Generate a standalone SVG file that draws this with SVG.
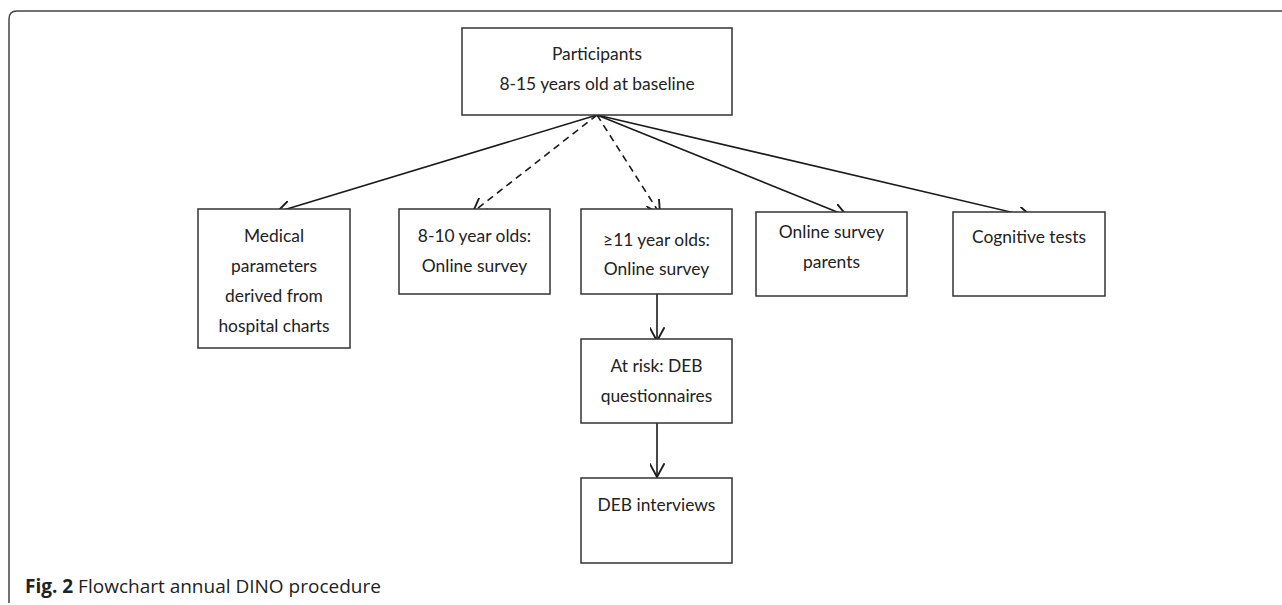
<svg xmlns="http://www.w3.org/2000/svg" width="1282" height="605" viewBox="0 0 1282 605">
<defs>
<style>
.box{fill:#fff;stroke:#333;stroke-width:1.5}
.t{font-family:Lato,"Open Sans",sans-serif;font-size:17.4px;fill:#222;text-anchor:middle}
.c{stroke:#1a1a1a;stroke-width:1.6;fill:none}
.d{stroke-dasharray:7 5}
.frame{fill:none;stroke:#444;stroke-width:1.5}
.cap{font-family:"Open Sans",sans-serif;font-size:19px;fill:#222}
</style>
<marker id="ah" viewBox="0 0 12 12" refX="11" refY="6" markerWidth="15" markerHeight="15" markerUnits="userSpaceOnUse" orient="auto">
<path d="M0,0 L11,6 L0,12" fill="none" stroke="#1a1a1a" stroke-width="1.5"/>
</marker>
</defs>
<path class="frame" d="M9,603 L9,19 Q9,11 17,11 L1282,11"/>
<g id="connectors">
<line class="c" x1="597" y1="115" x2="277" y2="212" marker-end="url(#ah)"/>
<line class="c d" x1="597" y1="115" x2="473" y2="212" marker-end="url(#ah)"/>
<line class="c d" x1="597" y1="115" x2="660" y2="214" marker-end="url(#ah)"/>
<line class="c" x1="597" y1="115" x2="847" y2="216" marker-end="url(#ah)"/>
<line class="c" x1="597" y1="115" x2="1032" y2="217" marker-end="url(#ah)"/>
<line class="c" x1="657" y1="294" x2="657" y2="341" marker-end="url(#ah)"/>
<line class="c" x1="657" y1="423" x2="657" y2="477" marker-end="url(#ah)"/>
</g>
<g id="participants">
<rect class="box" x="462" y="28" width="270" height="87"/>
<text class="t" x="597" y="60">Participants</text>
<text class="t" x="597" y="90">8-15 years old at baseline</text>
</g>
<g id="medical">
<rect class="box" x="198" y="209" width="152" height="139"/>
<text class="t" x="274" y="242">Medical</text>
<text class="t" x="274" y="272">parameters</text>
<text class="t" x="274" y="302">derived from</text>
<text class="t" x="274" y="332">hospital charts</text>
</g>
<g id="young">
<rect class="box" x="399" y="209" width="151" height="85"/>
<text class="t" x="474.5" y="242">8-10 year olds:</text>
<text class="t" x="474.5" y="272">Online survey</text>
</g>
<g id="older">
<rect class="box" x="581" y="209" width="151" height="85"/>
<text class="t" x="656.5" y="246">≥11 year olds:</text>
<text class="t" x="656.5" y="275">Online survey</text>
</g>
<g id="parents">
<rect class="box" x="756" y="212" width="151" height="84"/>
<text class="t" x="831.5" y="238">Online survey</text>
<text class="t" x="831.5" y="268">parents</text>
</g>
<g id="cognitive">
<rect class="box" x="953" y="212" width="152" height="84"/>
<text class="t" x="1029" y="243">Cognitive tests</text>
</g>
<g id="atrisk">
<rect class="box" x="581" y="339" width="151" height="84"/>
<text class="t" x="656.5" y="372">At risk: DEB</text>
<text class="t" x="656.5" y="402">questionnaires</text>
</g>
<g id="interviews">
<rect class="box" x="581" y="478" width="151" height="85"/>
<text class="t" x="656.5" y="511">DEB interviews</text>
</g>
<text class="cap" x="25" y="593"><tspan font-weight="bold">Fig. 2</tspan> Flowchart annual DINO procedure</text>
</svg>
